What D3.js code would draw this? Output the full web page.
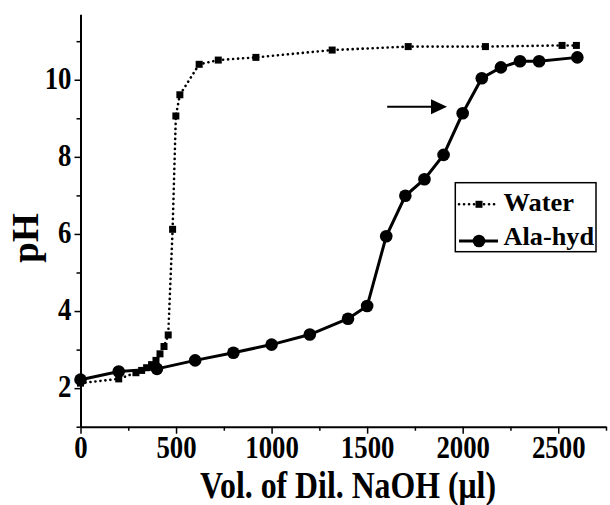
<!DOCTYPE html>
<html>
<head>
<meta charset="utf-8">
<script src="https://cdn.jsdelivr.net/npm/d3@7"></script>
<style>
  body { margin: 0; background: #fff; }
  svg { display: block; }
</style>
</head>
<body>
<svg width="610" height="505"></svg>
<script>
// titration data
const waterVol = [0, 200, 290, 320, 346, 372, 395, 416, 437, 459, 482, 499, 520, 621, 721, 918, 1317, 1715, 2119, 2520, 2595];
const waterPH  = [2.13, 2.24, 2.40, 2.46, 2.53, 2.61, 2.72, 2.89, 3.08, 3.38, 6.12, 9.06, 9.61, 10.40, 10.51, 10.58, 10.77, 10.86, 10.86, 10.89, 10.89];
const alaVol = [0, 200, 400, 600, 800, 1000, 1200, 1400, 1500, 1600, 1700, 1800, 1900, 2000, 2100, 2200, 2300, 2400, 2600];
const alaPH  = [2.22, 2.43, 2.50, 2.72, 2.92, 3.13, 3.39, 3.80, 4.13, 5.94, 6.99, 7.42, 8.05, 9.13, 10.04, 10.32, 10.48, 10.48, 10.58];
const xTicks = [0, 500, 1000, 1500, 2000, 2500];
const xMinor = [250, 750, 1250, 1750, 2250, 2750];
const yTicks = [2, 4, 6, 8, 10];
const yMinor = [1, 3, 5, 7, 9, 11];
const seriesNames = ["Water", "Ala-hyd"];
// arrow annotation (vol from, vol to, pH)
const arrowFrom = 1605, arrowTo = 1918, arrowPH = 9.3;

const FONT = "'Liberation Serif', 'Times New Roman', serif";
const svg = d3.select("svg");

const water = waterVol.map((v, i) => ({ x: v, y: waterPH[i] }));
const ala = alaVol.map((v, i) => ({ x: v, y: alaPH[i] }));

let x = d3.scaleLinear()
    .domain([0, 2750])
    .range([80.5, 606]);

let y = d3.scaleLinear()
    .domain([1, 11.7])
    .range([426.7, 14.2]);

// minor ticks
svg.append("g")
    .attr("transform", "translate(0,426.7)")
    .call(d3.axisBottom(x).tickValues(xMinor).tickSize(4).tickFormat(""))
    .call(g => g.select(".domain").remove());

svg.append("g")
    .attr("transform", "translate(80.5,0)")
    .call(d3.axisLeft(y).tickValues(yMinor).tickSize(4).tickFormat(""))
    .call(g => g.select(".domain").remove());

let xAxis = svg.append("g")
    .attr("transform", "translate(0,426.7)")
    .call(d3.axisBottom(x).tickValues(xTicks).tickFormat(d3.format("d"))
        .tickSize(7).tickPadding(2).tickSizeOuter(0));

let yAxis = svg.append("g")
    .attr("transform", "translate(80.5,0)")
    .call(d3.axisLeft(y).tickValues(yTicks).tickFormat(d3.format("d"))
        .tickSize(6).tickPadding(3).tickSizeOuter(0));

svg.selectAll(".tick line").attr("stroke", "#000").attr("stroke-width", 1.5);
svg.selectAll(".domain").attr("stroke", "#000").attr("stroke-width", 2);

svg.selectAll(".tick text")
    .style("font-family", FONT)
    .style("font-weight", "bold")
    .style("font-size", "31px")
    .attr("fill", "#000")
    .attr("textLength", function() { return this.textContent.length * 13.4; })
    .attr("lengthAdjust", "spacingAndGlyphs");

yAxis.selectAll("text").attr("dy", "0.28em");

// axis titles
svg.append("text")
    .attr("x", 348)
    .attr("y", 498)
    .attr("text-anchor", "middle")
    .style("font-family", FONT)
    .style("font-weight", "bold")
    .style("font-size", "38px")
    .attr("textLength", 296)
    .attr("lengthAdjust", "spacingAndGlyphs")
    .text("Vol. of Dil. NaOH (μl)");

svg.append("text")
    .attr("transform", "translate(38,238) rotate(-90)")
    .attr("text-anchor", "middle")
    .style("font-family", FONT)
    .style("font-weight", "bold")
    .style("font-size", "37px")
    .text("pH");

let line = d3.line().x(d => x(d.x)).y(d => y(d.y));

// water: dotted line with squares
svg.append("path")
    .datum(water)
    .attr("d", line)
    .attr("fill", "none")
    .attr("stroke", "#000")
    .attr("stroke-width", 2.6)
    .attr("stroke-linecap", "round")
    .attr("stroke-dasharray", "0.1,4.9");

svg.selectAll("rect.water")
    .data(water)
    .enter()
    .append("rect")
    .attr("class", "water")
    .attr("x", d => x(d.x) - 3.5)
    .attr("y", d => y(d.y) - 3.5)
    .attr("width", 7)
    .attr("height", 7)
    .attr("fill", "#000");

// ala-hyd: solid line with circles
svg.append("path")
    .datum(ala)
    .attr("d", line)
    .attr("fill", "none")
    .attr("stroke", "#000")
    .attr("stroke-width", 3);

svg.selectAll("circle.ala")
    .data(ala)
    .enter()
    .append("circle")
    .attr("class", "ala")
    .attr("cx", d => x(d.x))
    .attr("cy", d => y(d.y))
    .attr("r", 6.3)
    .attr("fill", "#000");

// arrow
svg.append("line")
    .attr("x1", x(arrowFrom))
    .attr("x2", x(arrowTo) - 14)
    .attr("y1", y(arrowPH))
    .attr("y2", y(arrowPH))
    .attr("stroke", "#000")
    .attr("stroke-width", 2);

svg.append("path")
    .attr("d", `M${x(arrowTo)},${y(arrowPH)} l-16,-7.5 l0,15 z`)
    .attr("fill", "#000");

// legend
let legend = svg.append("g");

legend.append("rect")
    .attr("x", 455.3)
    .attr("y", 182.7)
    .attr("width", 140.7)
    .attr("height", 69)
    .attr("fill", "#fff")
    .attr("stroke", "#000")
    .attr("stroke-width", 1.5);

legend.append("line")
    .attr("x1", 459).attr("x2", 498)
    .attr("y1", 204.3).attr("y2", 204.3)
    .attr("stroke", "#000")
    .attr("stroke-width", 2.6)
    .attr("stroke-linecap", "round")
    .attr("stroke-dasharray", "0.1,4.9");

legend.append("rect")
    .attr("x", 479 - 3.5).attr("y", 204.3 - 3.5)
    .attr("width", 7).attr("height", 7)
    .attr("fill", "#000");

legend.append("line")
    .attr("x1", 459).attr("x2", 498)
    .attr("y1", 241).attr("y2", 241)
    .attr("stroke", "#000")
    .attr("stroke-width", 3);

legend.append("circle")
    .attr("cx", 479).attr("cy", 241)
    .attr("r", 6.3)
    .attr("fill", "#000");

legend.selectAll("text.name")
    .data(seriesNames)
    .enter()
    .append("text")
    .attr("class", "name")
    .attr("x", 503.5)
    .attr("y", (d, i) => i == 0 ? 210.5 : 245)
    .style("font-family", FONT)
    .style("font-weight", "bold")
    .style("font-size", "25px")
    .attr("textLength", (d, i) => i == 0 ? 70.5 : 90.5)
    .attr("lengthAdjust", "spacingAndGlyphs")
    .text(d => d);
</script>
</body>
</html>
